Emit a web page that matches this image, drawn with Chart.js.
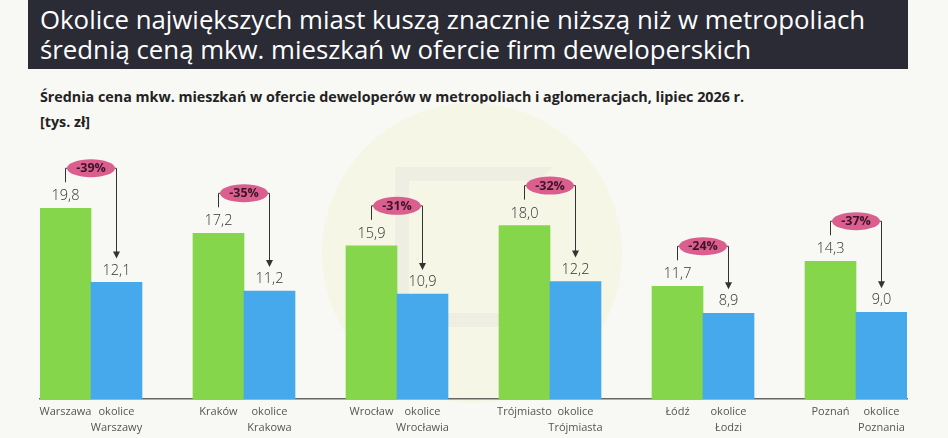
<!DOCTYPE html>
<html lang="pl">
<head>
<meta charset="utf-8">
<script src="https://cdn.jsdelivr.net/npm/chart.js@4.4.1/dist/chart.umd.min.js"></script>
<style>
html, body { margin: 0; padding: 0; width: 948px; height: 438px; overflow: hidden; background: #f8f8f5; font-family: "Open Sans", sans-serif; }
#titleBar { position: absolute; left: 28px; top: 0; width: 880px; height: 69px; background: #2b2b36; }
#titleBar h1 { margin: 0; position: absolute; left: 12px; top: 4px; color: #fff; font-weight: 400; font-size: 25.8px; line-height: 30px; white-space: nowrap; }
#sub { position: absolute; left: 40px; top: 87px; font-weight: 700; font-size: 14.3px; color: #222; white-space: nowrap; }
#unit { position: absolute; left: 40px; top: 112px; font-weight: 700; font-size: 14.3px; color: #222; }
#mark { position: absolute; left: 322px; top: 103px; width: 300px; height: 300px; border-radius: 50%; background: #f6f6e6; }
#logo { position: absolute; left: 395px; top: 167px; width: 130px; height: 132px; border: 14px solid #efeee2; border-right-color: transparent; }
#chart { position: absolute; left: 0; top: 0; width: 948px; height: 441px; }
</style>
</head>
<body>
<div id="titleBar"><h1>Okolice największych miast kuszą znacznie niższą niż w metropoliach<br>średnią ceną mkw. mieszkań w ofercie firm deweloperskich</h1></div>
<div id="sub">Średnia cena mkw. mieszkań w ofercie deweloperów w metropoliach i aglomeracjach, lipiec 2026 r.</div>
<div id="unit">[tys. zł]</div>
<div id="mark"></div>
<div id="logo"></div>
<canvas id="chart" width="948" height="441"></canvas>
<script>
var cities = ['Warszawa', 'Kraków', 'Wrocław', 'Trójmiasto', 'Łódź', 'Poznań'];
var suburbs = [['okolice', 'Warszawy'], ['okolice', 'Krakowa'], ['okolice', 'Wrocławia'], ['okolice', 'Trójmiasta'], ['okolice', 'Łodzi'], ['okolice', 'Poznania']];
var cityPrices = [19.8, 17.2, 15.9, 18.0, 11.7, 14.3];
var suburbPrices = [12.1, 11.2, 10.9, 12.2, 8.9, 9.0];
var diffLabels = ['-39%', '-35%', '-31%', '-32%', '-24%', '-37%'];

var green = '#86d64b';
var blue = '#46a9ec';

// city, suburb, empty gap slot, ...
var labels = [], values = [], colors = [];
cities.forEach(function (c, i) {
    labels.push(c, suburbs[i]);
    values.push(cityPrices[i], suburbPrices[i]);
    colors.push(green, blue);
    if (i < cities.length - 1) {
        labels.push('');
        values.push(null);
        colors.push('rgba(0,0,0,0)');
    }
});

var bracketPlugin = {
    id: 'brackets',
    afterDatasetsDraw: function (chart) {
        var ctx = chart.ctx;
        var bars = chart.getDatasetMeta(0).data;
        ctx.save();
        ctx.font = '300 14.5px "Open Sans"';
        ctx.fillStyle = '#333';
        ctx.textAlign = 'center';
        ctx.textBaseline = 'middle';
        values.forEach(function (v, i) {
            if (v === null) return;
            ctx.fillText(v.toFixed(1).replace('.', ','), bars[i].x, bars[i].y - 12);
        });

        cities.forEach(function (c, i) {
            var g = bars[i * 3], s = bars[i * 3 + 1];
            var ey = g.y - 40;
            var ex = (g.x + s.x) / 2;
            ctx.strokeStyle = '#333';
            ctx.lineWidth = 1;
            ctx.beginPath();
            ctx.moveTo(g.x, g.y - 26);
            ctx.lineTo(g.x, ey);
            ctx.lineTo(s.x, ey);
            ctx.lineTo(s.x, s.y - 30);
            ctx.stroke();
            ctx.fillStyle = '#333';
            ctx.beginPath();
            ctx.moveTo(s.x - 3.5, s.y - 31);
            ctx.lineTo(s.x + 3.5, s.y - 31);
            ctx.lineTo(s.x, s.y - 24);
            ctx.closePath();
            ctx.fill();

            ctx.fillStyle = '#db5f8e';
            ctx.beginPath();
            ctx.ellipse(ex, ey, 24, 9, 0, 0, Math.PI * 2);
            ctx.fill();
            ctx.fillStyle = '#3a1528';
            ctx.font = '700 12.5px "Open Sans"';
            ctx.fillText(diffLabels[i], ex, ey + 0.5);
        });
        ctx.restore();
    }
};

new Chart(document.getElementById('chart'), {
    type: 'bar',
    data: {
        labels: labels,
        datasets: [{
            data: values,
            backgroundColor: colors,
            barPercentage: 1,
            categoryPercentage: 1
        }]
    },
    options: {
        responsive: false,
        animation: false,
        devicePixelRatio: 1,
        layout: { padding: { left: 40, right: 41, top: 110, bottom: 0 } },
        plugins: { legend: { display: false }, tooltip: { enabled: false } },
        scales: {
            x: {
                grid: { display: false, drawTicks: false },
                border: { color: '#666', width: 1.5 },
                ticks: {
                    autoSkip: false,
                    maxRotation: 0,
                    padding: 5,
                    color: '#555',
                    font: { family: 'Open Sans', size: 11, lineHeight: '16px' }
                }
            },
            y: { display: false, min: 0, max: 30 }
        }
    },
    plugins: [bracketPlugin]
});
</script>
</body>
</html>
